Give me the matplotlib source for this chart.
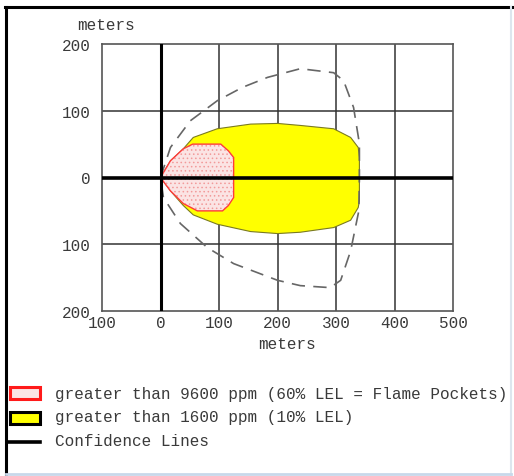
import matplotlib
matplotlib.use("Agg")
import matplotlib.pyplot as plt
from matplotlib.patches import Polygon, Rectangle
from matplotlib.lines import Line2D

# ---- data (meters) ----
yellow_x = [0, 17, 39, 56, 97, 154, 200, 239, 296, 325, 338, 340, 340, 338, 325, 296, 239, 200, 154, 97, 56, 39, 17, 0]
yellow_y = [0, 25, 43, 60, 73, 80, 81, 78, 73, 60, 45, 30, -35, -45, -64, -75, -82, -84, -81, -70, -56, -42, -20, 0]

pink_x = [0, 17, 39, 55, 103, 116, 125, 125, 116, 106, 63, 39, 17, 0]
pink_y = [0, 25, 43, 50, 50, 40, 30, -30, -42, -50, -50, -39, -20, 0]

conf_x = [0, 17, 51, 97, 140, 183, 239, 296, 313, 330, 340, 340, 339, 325, 308, 290, 239, 200, 125, 80, 34, 5, 0]
conf_y = [0, 45, 85, 115, 135, 150, 163, 157, 145, 105, 51, 0, -50, -110, -154, -165, -162, -154, -129, -105, -69, -30, 0]

x_ticks = [-100, 0, 100, 200, 300, 400, 500]
x_labels = ["100", "0", "100", "200", "300", "400", "500"]
y_ticks = [-200, -100, 0, 100, 200]
y_labels = ["200", "100", "0", "100", "200"]

legend_labels = ["greater than 9600 ppm (60% LEL = Flame Pockets)",
                 "greater than 1600 ppm (10% LEL)",
                 "Confidence Lines"]

FONT = "Liberation Mono"
TXT = "#3a3a3a"
FS = 11.5

matplotlib.rcParams['hatch.linewidth'] = 0.6

fig = plt.figure(figsize=(5.14, 4.77), dpi=100)
W, H = 514, 477
ax = fig.add_axes([102 / W, 1 - 312 / H, (453 - 102) / W, (312 - 45) / H])
ax.set_xlim(-100, 500)
ax.set_ylim(-200, 200)

# grid
for xv in x_ticks[1:-1]:
    if xv != 0:
        ax.axvline(xv, color="#333333", lw=1.1, zorder=1)
for yv in y_ticks[1:-1]:
    if yv != 0:
        ax.axhline(yv, color="#333333", lw=1.1, zorder=1)

ax.add_patch(Polygon(list(zip(yellow_x, yellow_y)), closed=True, facecolor="#ffff00",
                     edgecolor="#7a7a20", lw=0.8, zorder=2))
ax.add_patch(Polygon(list(zip(pink_x, pink_y)), closed=True, facecolor="#fbe4e4",
                     edgecolor="none", zorder=3))
ax.add_patch(Polygon(list(zip(pink_x, pink_y)), closed=True, facecolor="none",
                     edgecolor="#f29a9a", hatch="....", lw=0, zorder=3))
ax.add_patch(Polygon(list(zip(pink_x, pink_y)), closed=True, facecolor="none",
                     edgecolor="#ff3b3b", lw=1.0, zorder=4))

ax.plot(conf_x, conf_y, color="#666666", lw=1.2, ls=(0, (8, 5)), zorder=5)

ax.axhline(0, color="black", lw=2.6, zorder=6)
ax.axvline(0, color="black", lw=2.2, zorder=6)

for s in ax.spines.values():
    s.set_color("#555555")
    s.set_linewidth(1.2)

ax.set_xticks(x_ticks)
ax.set_xticklabels(x_labels)
ax.set_yticks(y_ticks)
ax.set_yticklabels(y_labels)
ax.tick_params(length=0, labelsize=FS, labelcolor=TXT)
ax.tick_params(axis="y", pad=8)
ax.tick_params(axis="x", pad=3)
for lab in ax.get_xticklabels() + ax.get_yticklabels():
    lab.set_fontfamily(FONT)

fig.text(106 / W, 1 - 25 / H, "meters", ha="center", va="center",
         fontfamily=FONT, fontsize=FS, color=TXT)
fig.text(287 / W, 1 - 345 / H, "meters", ha="center", va="center",
         fontfamily=FONT, fontsize=FS, color=TXT)

# legend
fig.add_artist(Rectangle((10 / W, 1 - 400 / H), 30 / W, 12 / H, transform=fig.transFigure,
                         facecolor="#fbe4e4", edgecolor="#ff1a1a", lw=2.2))
fig.add_artist(Rectangle((10 / W, 1 - 425 / H), 30 / W, 12 / H, transform=fig.transFigure,
                         facecolor="#ffff00", edgecolor="black", lw=2.2))
fig.add_artist(Line2D([7 / W, 40 / W], [1 - 443 / H, 1 - 443 / H], transform=fig.transFigure,
                      color="black", lw=2.6))
for lab, yy in zip(legend_labels, [395, 418, 442]):
    fig.text(55 / W, 1 - yy / H, lab, ha="left", va="center",
             fontfamily=FONT, fontsize=FS, color=TXT)

# frame
fig.add_artist(Line2D([6 / W, 6 / W], [0, 1 - 8 / H], transform=fig.transFigure, color="black", lw=2.2))
fig.add_artist(Line2D([5 / W, 1], [1 - 8 / H, 1 - 8 / H], transform=fig.transFigure, color="black", lw=2.2))
fig.add_artist(Line2D([511 / W, 511 / W], [0, 1 - 8 / H], transform=fig.transFigure, color="#dde6ee", lw=1.5))
fig.add_artist(Line2D([6 / W, 511 / W], [2 / H, 2 / H], transform=fig.transFigure, color="#c8d8ea", lw=2))

fig.savefig("out.png", dpi=100)
